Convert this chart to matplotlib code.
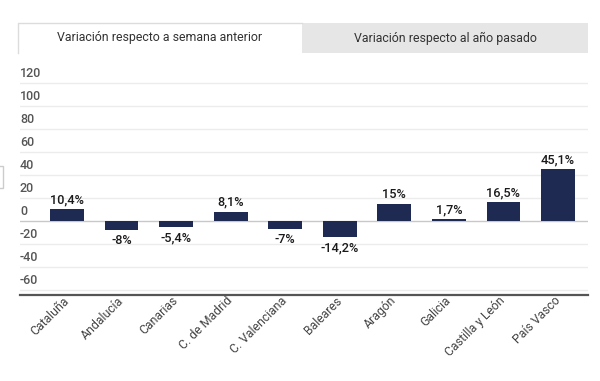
import matplotlib
matplotlib.use("Agg")
import matplotlib.pyplot as plt
from matplotlib.patches import Rectangle
from matplotlib.lines import Line2D
from matplotlib import transforms

plt.rcParams['font.family'] = ['Roboto', 'DejaVu Sans']

categories = ["Cataluña", "Andalucía", "Canarias", "C. de Madrid", "C. Valenciana",
              "Baleares", "Aragón", "Galicia", "Castilla y León", "País Vasco"]
values = [10.4, -8, -5.4, 8.1, -7, -14.2, 15, 1.7, 16.5, 45.1]
value_labels = ["10,4%", "-8%", "-5,4%", "8,1%", "-7%", "-14,2%", "15%", "1,7%", "16,5%", "45,1%"]
yticks = [120, 100, 80, 60, 40, 20, 0, -20, -40, -60]
tabs = ["Variación respecto a semana anterior", "Variación respecto al año pasado"]

W, H = 600, 381
fig = plt.figure(figsize=(W / 100, H / 100), dpi=100)

def px(x0, y0, x1, y1):
    return [x0 / W, 1 - y1 / H, (x1 - x0) / W, (y1 - y0) / H]

def fx(x):
    return x / W

def fy(y):
    return 1 - y / H

# Tabs
l2, b2, w2, h2 = px(302, 23, 588, 53)
fig.patches.append(Rectangle((l2, b2), w2, h2, transform=fig.transFigure,
                             facecolor='#e6e6e6', edgecolor='none'))
l, b, w, h = px(18, 23, 302, 53)
fig.patches.append(Rectangle((l, b), w, h, transform=fig.transFigure,
                             facecolor='white', edgecolor='none'))
fig.lines.append(Line2D([fx(18), fx(18), fx(302)], [fy(53), fy(23), fy(23)],
                        transform=fig.transFigure, color='#dcdcdc', lw=1))
fig.text(l + w / 2, b + h / 2, tabs[0], ha='center', va='center', fontsize=8.9, color='#333333')
fig.text(l2 + w2 / 2, b2 + h2 / 2, tabs[1], ha='center', va='center', fontsize=8.9, color='#333333')

# small cut-off element at left edge
lb, bb, wb, hb = px(-6, 166, 3, 188)
fig.patches.append(Rectangle((lb, bb), wb, hb, transform=fig.transFigure,
                             facecolor='white', edgecolor='#cccccc', lw=1))

ax = fig.add_axes(px(20, 77, 588, 294.6))
ax.set_ylim(-64, 125)
ax.set_xlim(-0.86, 9.55)

for t in yticks:
    ax.axhline(t, color='#c8c8c8' if t == 0 else '#ececec', lw=1, zorder=0)

x = list(range(len(categories)))
ax.bar(x, values, width=0.62, color='#1e2a52', zorder=2)

for xi, v, lab in zip(x, values, value_labels):
    if v >= 0:
        ax.annotate(lab, (xi, v), xytext=(0, 2), textcoords='offset points',
                    ha='center', va='bottom', fontsize=9.2, color='#1a1a1a', fontweight='medium')
    else:
        ax.annotate(lab, (xi, v), xytext=(0, -3), textcoords='offset points',
                    ha='center', va='top', fontsize=9.2, color='#1a1a1a', fontweight='medium')

trans = transforms.blended_transform_factory(ax.transAxes, ax.transData)
trans = transforms.offset_copy(trans, fig=fig, x=0, y=2, units='points')
for t in yticks:
    ax.text(0.0, t, str(t), transform=trans, ha='left', va='bottom', fontsize=9,
            color='#555555', fontweight='medium')

ax.set_yticks([])
ax.set_xticks(x)
ax.set_xticklabels(categories, rotation=45, ha='right', va='center', rotation_mode='anchor',
                   fontsize=8.8, color='#444444')
offset = transforms.ScaledTranslation(6 / 72, 0, fig.dpi_scale_trans)
for lbl in ax.get_xticklabels():
    lbl.set_transform(lbl.get_transform() + offset)
ax.tick_params(axis='x', length=0, pad=3)
for s in ['top', 'right', 'left']:
    ax.spines[s].set_visible(False)
ax.spines['bottom'].set_color('#555555')
ax.spines['bottom'].set_linewidth(1.6)
ax.patch.set_alpha(0)

fig.savefig('out.png', dpi=100)
